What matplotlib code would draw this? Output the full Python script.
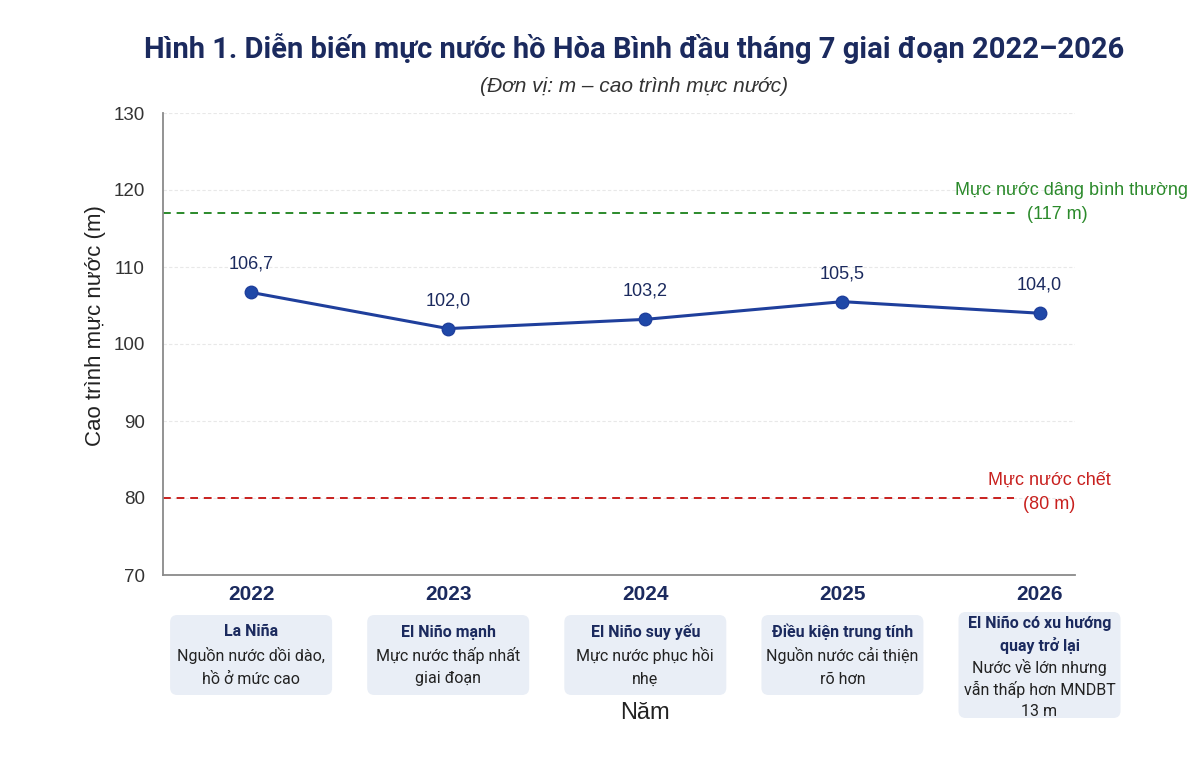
import matplotlib
matplotlib.use("Agg")
import matplotlib.pyplot as plt
from matplotlib.patches import FancyBboxPatch
from matplotlib import font_manager

years = [2022, 2023, 2024, 2025, 2026]
levels = [106.7, 102.0, 103.2, 105.5, 104.0]
level_labels = ["106,7", "102,0", "103,2", "105,5", "104,0"]
normal_level = 117
dead_level = 80
y_ticks = [70, 80, 90, 100, 110, 120, 130]

box_titles = [["La Niña"], ["El Niño mạnh"], ["El Niño suy yếu"], ["Điều kiện trung tính"],
              ["El Niño có xu hướng", "quay trở lại"]]
box_bodies = [["Nguồn nước dồi dào,", "hồ ở mức cao"], ["Mực nước thấp nhất", "giai đoạn"],
              ["Mực nước phục hồi", "nhẹ"], ["Nguồn nước cải thiện", "rõ hơn"],
              ["Nước về lớn nhưng", "vẫn thấp hơn MNDBT", "13 m"]]

names = {f.name for f in font_manager.fontManager.ttflist}
cond = "Liberation Sans Narrow" if "Liberation Sans Narrow" in names else "Roboto"
base = "Liberation Sans" if "Liberation Sans" in names else "DejaVu Sans"
plt.rcParams['font.family'] = [base, 'DejaVu Sans']

navy = "#1b2a5e"
blue = "#1f3f9c"
green = "#2b8a2b"
red = "#c8201e"

W, H = 1200, 778
fig = plt.figure(figsize=(12, 7.78), dpi=100)
ax = fig.add_axes([163 / W, 1 - 575 / H, (1075 - 163) / W, (575 - 113) / H])

x = list(range(len(years)))
ax.set_xlim(-0.447, 4.18)
ax.set_ylim(70, 130)
ax.set_yticks(y_ticks)
ax.set_xticks(x)
ax.set_xticklabels([str(y) for y in years], fontsize=15, fontweight='bold', color=navy)
ax.tick_params(axis='both', length=0)
ax.tick_params(axis='x', pad=7)
ax.tick_params(axis='y', pad=13, labelsize=13.5, labelcolor="#333333")
for s in ['top', 'right']:
    ax.spines[s].set_visible(False)
for s in ['left', 'bottom']:
    ax.spines[s].set_color("#8a8a8a")
    ax.spines[s].set_linewidth(1.3)
ax.grid(axis='y', color="#e8e8e8", linewidth=0.8, linestyle=(0, (3, 2)))
ax.set_axisbelow(True)

ax.plot([-0.447, 3.90], [normal_level] * 2, color=green, linestyle=(0, (4, 3)), linewidth=1.4)
ax.plot([-0.447, 3.87], [dead_level] * 2, color=red, linestyle=(0, (4, 3)), linewidth=1.4)

ax.plot(x, levels, color=blue, linewidth=2.2, marker='o', markersize=9,
        markerfacecolor="#1f48a8", markeredgecolor=blue, zorder=3)
for xi, v, lab in zip(x, levels, level_labels):
    ax.annotate(lab, (xi, v), xytext=(0, 14), textcoords='offset points',
                ha='center', va='bottom', fontsize=13, color=navy)

ax.text(4.16, normal_level + 2.9, "Mực nước dâng bình thường", color=green, fontsize=13,
        ha='center', va='center', clip_on=False)
ax.text(4.09, normal_level - 0.2, "(117 m)", color=green, fontsize=13,
        ha='center', va='center', clip_on=False)
ax.text(4.05, dead_level + 2.3, "Mực nước chết", color=red, fontsize=13,
        ha='center', va='center', clip_on=False)
ax.text(4.05, dead_level - 0.8, "(80 m)", color=red, fontsize=13,
        ha='center', va='center', clip_on=False)

ax.set_ylabel("Cao trình mực nước (m)", fontsize=16, color="#222222")
ax.yaxis.set_label_coords(-0.062, 0.54)

fig.text(634 / W, 1 - 48 / H, "Hình 1. Diễn biến mực nước hồ Hòa Bình đầu tháng 7 giai đoạn 2022–2026",
         family=[cond, 'DejaVu Sans'], fontsize=21, fontweight='bold', color=navy,
         ha='center', va='center')
fig.text(634 / W, 1 - 86 / H, "(Đơn vị: m – cao trình mực nước)", fontsize=15,
         style='italic', color="#333333", ha='center', va='center')

# annotation boxes under each year
box_w = 162
for i, (t, b) in enumerate(zip(box_titles, box_bodies)):
    px = ax.transData.transform((x[i], 0))[0]
    if i == 4:
        top, bot, start, step = 612, 718, 623, 22
    else:
        top, bot, start, step = 615, 695, 632, 23.5
    patch = FancyBboxPatch(((px - box_w / 2) / W, 1 - bot / H), box_w / W, (bot - top) / H,
                           boxstyle="round,pad=0,rounding_size=0.006",
                           mutation_aspect=W / H, transform=fig.transFigure,
                           facecolor="#e9eef6", edgecolor="none")
    fig.patches.append(patch)
    lines = [(s, 'bold', navy) for s in t] + [(s, 'normal', "#222222") for s in b]
    for k, (s, fw, c) in enumerate(lines):
        fig.text(px / W, 1 - (start + k * step) / H, s, family=[cond, 'DejaVu Sans'],
                 fontsize=11.5, fontweight=fw, color=c, ha='center', va='center')

fig.text(ax.transData.transform((2, 0))[0] / W, 1 - 713 / H, "Năm", fontsize=17,
         color="#222222", ha='center', va='center')

fig.savefig("out.png", dpi=100)
